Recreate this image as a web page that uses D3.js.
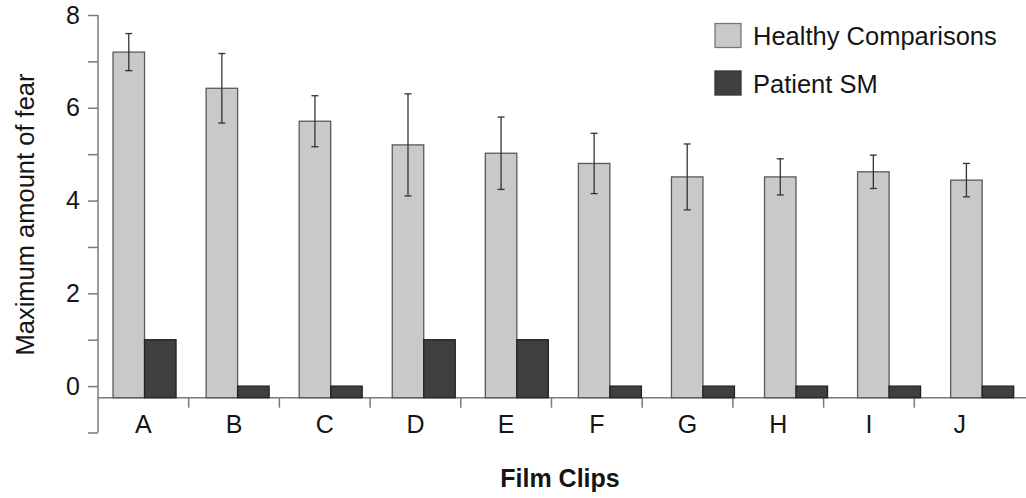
<!DOCTYPE html>
<html>
<head>
<meta charset="utf-8">
<script src="https://cdn.jsdelivr.net/npm/d3@7"></script>
<style>
  body { margin: 0; background: #fff; }
  svg text { font-family: "Liberation Sans", Arial, sans-serif; fill: #151515; }
</style>
</head>
<body>
<svg width="1026" height="498"></svg>
<script>

var clips = ["A", "B", "C", "D", "E", "F", "G", "H", "I", "J"];
var healthy = [7.2, 6.42, 5.71, 5.2, 5.02, 4.8, 4.51, 4.51, 4.62, 4.44];
var healthyErr = [0.4, 0.75, 0.55, 1.1, 0.78, 0.65, 0.71, 0.39, 0.36, 0.36];
var patientSM = [1, 0, 0, 1, 1, 0, 0, 0, 0, 0];
var yTicks = [-1, 0, 1, 2, 3, 4, 5, 6, 7, 8];
var yLabels = [0, 2, 4, 6, 8];
var seriesNames = ["Healthy Comparisons", "Patient SM"];

var svg = d3.select("svg");

var lightFill = "#c9c9c9",
    darkFill = "#3f3f3f",
    axisColor = "#7a7a7a",
    base = -0.25;   // bars start at the x axis line, a bit below zero

var y = d3.scaleLinear().domain([-1, 8]).range([432.5, 15]);

// bars and axis labels are not spaced quite the same in the original
var xBars = d3.scaleBand().domain(clips).range([98, 1028.7]);
var xAxis = d3.scaleBand().domain(clips).range([98, 1005]);
var barW = 31.5;

// y axis
var gy = svg.append("g").attr("transform", "translate(98,0)");
gy.call(d3.axisLeft(y).tickValues(yTicks).tickSize(10)
    .tickFormat(function(d) { return yLabels.indexOf(d) >= 0 ? d : ""; }));
gy.select(".domain").attr("stroke", axisColor).attr("stroke-width", 1.5)
    .attr("d", "M0," + y(-1) + "V" + y(8));
gy.selectAll(".tick line").attr("stroke", axisColor).attr("stroke-width", 1.5);
gy.selectAll(".tick text").attr("font-size", 25).attr("x", -18)
    .attr("font-family", null).attr("fill", null);

// x axis
var gx = svg.append("g").attr("transform", "translate(0," + y(base) + ")");
gx.append("line").attr("x1", 98).attr("x2", 1026)
    .attr("stroke", axisColor).attr("stroke-width", 1.5);
gx.selectAll(".xtick").data(clips.slice(1)).enter().append("line")
    .attr("x1", function(d) { return xAxis(d); })
    .attr("x2", function(d) { return xAxis(d); })
    .attr("y1", 0).attr("y2", 10)
    .attr("stroke", axisColor).attr("stroke-width", 1.5);
gx.call(d3.axisBottom(xAxis).tickSize(0).tickPadding(0));
gx.select(".domain").remove();
gx.selectAll(".tick text").attr("font-size", 25).attr("y", 18)
    .attr("font-family", null).attr("fill", null);

// healthy comparison bars
svg.append("g").selectAll("rect").data(clips).enter().append("rect")
    .attr("x", function(d) { return xBars(d) + xBars.bandwidth() / 2 - barW; })
    .attr("y", function(d, i) { return y(healthy[i]); })
    .attr("width", barW)
    .attr("height", function(d, i) { return y(base) - y(healthy[i]); })
    .attr("fill", lightFill).attr("stroke", "#5a5a5a").attr("stroke-width", 1.3);

// error bars
var eb = svg.append("g").attr("stroke", "#333").attr("stroke-width", 1.3);
clips.forEach(function(c, i) {
    var cx = xBars(c) + xBars.bandwidth() / 2 - barW / 2,
        hi = y(healthy[i] + healthyErr[i]),
        lo = y(healthy[i] - healthyErr[i]);
    eb.append("line").attr("x1", cx).attr("x2", cx).attr("y1", hi).attr("y2", lo);
    eb.append("line").attr("x1", cx - 3.5).attr("x2", cx + 3.5).attr("y1", hi).attr("y2", hi);
    eb.append("line").attr("x1", cx - 3.5).attr("x2", cx + 3.5).attr("y1", lo).attr("y2", lo);
});

// patient SM bars
svg.append("g").selectAll("rect").data(clips).enter().append("rect")
    .attr("x", function(d) { return xBars(d) + xBars.bandwidth() / 2; })
    .attr("y", function(d, i) { return y(patientSM[i]); })
    .attr("width", barW)
    .attr("height", function(d, i) { return y(base) - y(patientSM[i]); })
    .attr("fill", darkFill).attr("stroke", "#222").attr("stroke-width", 1.3);

// legend
var legend = svg.append("g").selectAll("g").data(seriesNames).enter().append("g")
    .attr("transform", function(d, i) { return "translate(715," + (23.5 + i * 47.5) + ")"; });
legend.append("rect").attr("width", 26).attr("height", 24)
    .attr("fill", function(d, i) { return i == 0 ? lightFill : darkFill; })
    .attr("stroke", function(d, i) { return i == 0 ? "#777" : "#333"; })
    .attr("stroke-width", 1.3);
legend.append("text").attr("x", 38).attr("y", 21.5).attr("font-size", 25.5)
    .text(function(d) { return d; });

// axis titles
svg.append("text")
    .attr("transform", "translate(34,214.5) rotate(-90)")
    .attr("text-anchor", "middle").attr("font-size", 25.5)
    .text("Maximum amount of fear");

svg.append("text")
    .attr("x", 560).attr("y", 487)
    .attr("text-anchor", "middle").attr("font-size", 25).attr("font-weight", "bold")
    .text("Film Clips");

</script>
</body>
</html>
